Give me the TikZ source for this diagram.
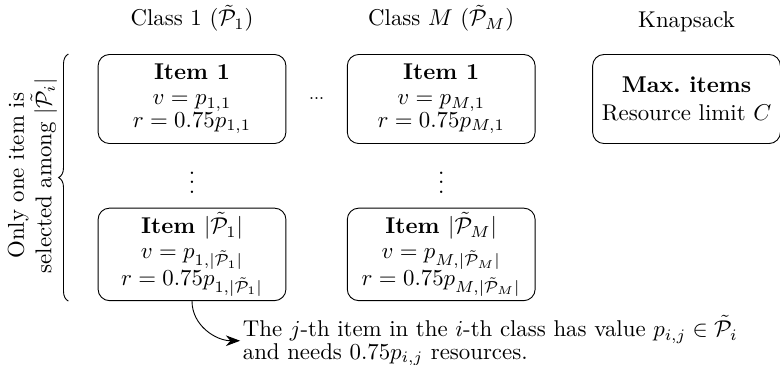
\documentclass[tikz,border=0pt]{standalone}
\usepackage{amsmath,amssymb}
\usetikzlibrary{arrows.meta, positioning, calc, decorations.pathreplacing}
\tikzset{
    item/.style={
        rectangle, rounded corners=5pt,
        draw=black, fill=white,
        minimum width=2.89cm, minimum height=1.37cm,
        align=center, inner sep=2pt
    },
    head/.style={
        font=\normalsize
    },
    sel label/.style={
        rotate=90, anchor=south, align=center
    },
    note/.style={
        anchor=west, align=left, inner sep=1pt
    },
    brace/.style={
        decorate, decoration={brace, amplitude=0.15cm}
    },
    arr/.style={
        -{Stealth[length=2.2mm]}, thin
    }
}

\begin{document}
\begin{tikzpicture}[node distance=0.98cm and 0.93cm]
    \useasboundingbox (0,0) rectangle (12,-5.615);

    % Item boxes
    \node[item] (b1) at (2.954,-1.523) {\textbf{Item 1}\\[-1pt] $v = p_{1,1}$\\[-2pt] $r = 0.75p_{1,1}$};
    \node[item, right=of b1] (bM) {\textbf{Item 1}\\[-1pt] $v = p_{M,1}$\\[-2pt] $r = 0.75p_{M,1}$};
    \node[item, right=0.87cm of bM] (ks) {\textbf{Max.\ items}\\ Resource limit $C$};
    \node[item, below=of b1] (b2) {\textbf{Item $|\tilde{\mathcal{P}}_1|$}\\[-1pt] $v = p_{1,|\tilde{\mathcal{P}}_1|}$\\[-0.5pt] $r = 0.75p_{1,|\tilde{\mathcal{P}}_1|}$};
    \node[item, below=of bM] (bM2) {\textbf{Item $|\tilde{\mathcal{P}}_M|$}\\[-1pt] $v = p_{M,|\tilde{\mathcal{P}}_M|}$\\[-0.5pt] $r = 0.75p_{M,|\tilde{\mathcal{P}}_M|}$};

    % Headers
    \node[head, above=0.22cm of b1] (h1) {Class 1 ($\tilde{\mathcal{P}}_1$)};
    \node[head, above=0.22cm of bM] (hM) {Class $M$ ($\tilde{\mathcal{P}}_M$)};
    \node[head, above=0.22cm of ks] (hk) {Knapsack};

    % Dots
    \node (hd) at ($(b1.east)!0.5!(bM.west)$) {\tiny\textbf{...}};
    \node (vd1) at ($(b1.south)!0.5!(b2.north)$) {$\vdots$};
    \node (vd2) at ($(bM.south)!0.5!(bM2.north)$) {$\vdots$};

    % Brace and its label
    \draw[brace] ([xshift=-0.45cm]b2.south west) -- ([xshift=-0.45cm]b1.north west);
    \path (b1.west |- vd1) ++(-0.50,0) coordinate (selpos);
    \node[sel label] (sel) at (selpos) {Only one item is\\ selected among $|\tilde{\mathcal{P}}_i|$};

    % Note
    \node[note] (note) at ([shift={(0.74,-0.61)}]b2.south)
        {The $j$-th item in the $i$-th class has value $p_{i,j} \in \tilde{\mathcal{P}}_i$\\[-2pt] and needs $0.75p_{i,j}$ resources.};
    \draw[arr] (b2.south) to[out=-90, in=180] (note.west);

\end{tikzpicture}
\end{document}
